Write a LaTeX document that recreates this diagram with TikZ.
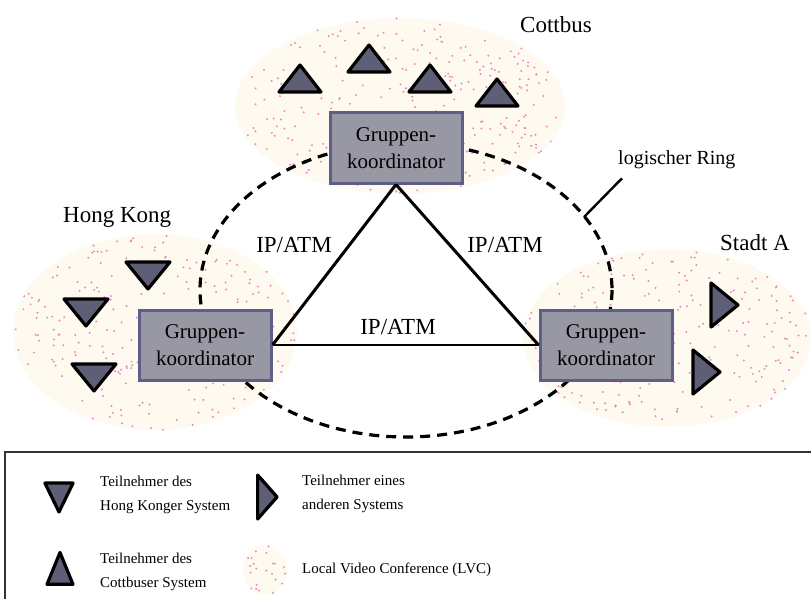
\documentclass[tikz,border=0pt]{standalone}
\usepackage{fontspec}
\setmainfont{Liberation Serif}
\usetikzlibrary{positioning}

\definecolor{lvccream}{HTML}{FFFAF0}
\definecolor{lvcpink}{HTML}{E888C0}
\definecolor{boxgray}{HTML}{9898A4}
\definecolor{boxedge}{HTML}{5E5E86}
\definecolor{trigray}{HTML}{5E5E76}

\tikzset{
  koord/.style={draw=boxedge,line width=3pt,fill=boxgray,minimum width=132pt,
    minimum height=70pt,align=center,inner sep=0pt,font=\fontsize{21}{27}\selectfont},
  ortlbl/.style={inner sep=1pt,font=\fontsize{23}{27}\selectfont},
  leglbl/.style={anchor=west,align=left,inner sep=0pt,font=\fontsize{15}{24}\selectfont},
  tri/.style={draw=black,line width=3.2pt,line join=round,fill=trigray},
  link/.style={line width=3pt},
  ring/.style={line width=3.2pt,dash pattern=on 10pt off 7pt},
  upTri/.pic={\draw[tri] (-21,13) -- (0,-14) -- (21,13) -- cycle;},
  downTri/.pic={\draw[tri] (-22,-13) -- (0,14) -- (22,-13) -- cycle;},
  rightTri/.pic={\draw[tri] (-13,-22) -- (14,0) -- (-13,22) -- cycle;}
}

% local video conference: cream ellipse with random pink dots
\newcommand{\lvcarea}[5]{%
  \fill[lvccream] (#1,#2) ellipse [x radius=#3, y radius=#4];
  \foreach \k in {1,...,#5}{
    \pgfmathsetmacro{\rr}{sqrt(rnd)}
    \pgfmathsetmacro{\aa}{360*rnd}
    \fill[lvcpink] ({#1+#3*\rr*cos(\aa)},{#2+#4*\rr*sin(\aa)}) circle [radius=1.1];
  }}

\begin{document}
\begin{tikzpicture}[x=1pt,y=-1pt]
\useasboundingbox (0,0) rectangle (811,599);
\pgfmathsetseed{17}

\lvcarea{400}{106}{165}{88}{270}
\lvcarea{155}{332}{142}{98}{250}
\lvcarea{667}{338}{144}{89}{240}

% logical ring
\draw[ring] (406,290) ellipse [x radius=206, y radius=147];
\coordinate (ringpt) at (584,217);

\node[koord] (cbBox) at (396,148) {Gruppen-\\koordinator};
\node[koord] (hkBox) at (205,345) {Gruppen-\\koordinator};
\node[koord] (saBox) at (606,345) {Gruppen-\\koordinator};

\draw[link] (cbBox.south) -- (hkBox.east);
\draw[link] (cbBox.south) -- (saBox.west);
\draw[line width=1.2pt] (hkBox.east) -- (saBox.west);

\node[ortlbl] (ipL) at (294,245) {IP/ATM};
\node[ortlbl] (ipR) at (505,245) {IP/ATM};
\node[ortlbl] (ipM) at (398,327) {IP/ATM};

\pic at (300,79) {upTri};
\pic at (369,59) {upTri};
\pic at (430,79) {upTri};
\pic at (497,93) {upTri};

\pic at (148,275) {downTri};
\pic at (86,312) {downTri};
\pic at (94,377) {downTri};

\pic at (724,305) {rightTri};
\pic at (706,372) {rightTri};

\node[ortlbl,anchor=west] (cbLbl) at (519,25) {Cottbus};
\node[ortlbl,anchor=west] (hkLbl) at (62,217) {Hong Kong};
\node[ortlbl,anchor=west] (saLbl) at (719,243) {Stadt A};
\node[ortlbl,anchor=west,font=\fontsize{20}{24}\selectfont] (ringLbl) at (617,160) {logischer Ring};
\draw[line width=2.4pt] (ringpt) -- ([xshift=5pt,yshift=-8pt]ringLbl.south west);

% legend
\draw[line width=1.8pt,draw=black!80] (5,452) rectangle (822,612);
\pic[xscale=0.64,yscale=1.07] at (59,497) {downTri};
\node[leglbl] (legHk) at (100,495) {Teilnehmer des\\Hong Konger System};
\pic[xscale=0.72] at (267,497) {rightTri};
\node[leglbl] (legSa) at (302,494) {Teilnehmer eines\\anderen Systems};
\pic[xscale=0.62,yscale=1.18] at (60,569) {upTri};
\node[leglbl] (legCb) at (100,572) {Teilnehmer des\\Cottbuser System};
\lvcarea{265}{570}{22}{25}{22}
\node[leglbl] (legLvc) at (302,570) {Local Video Conference (LVC)};
\end{tikzpicture}
\end{document}
